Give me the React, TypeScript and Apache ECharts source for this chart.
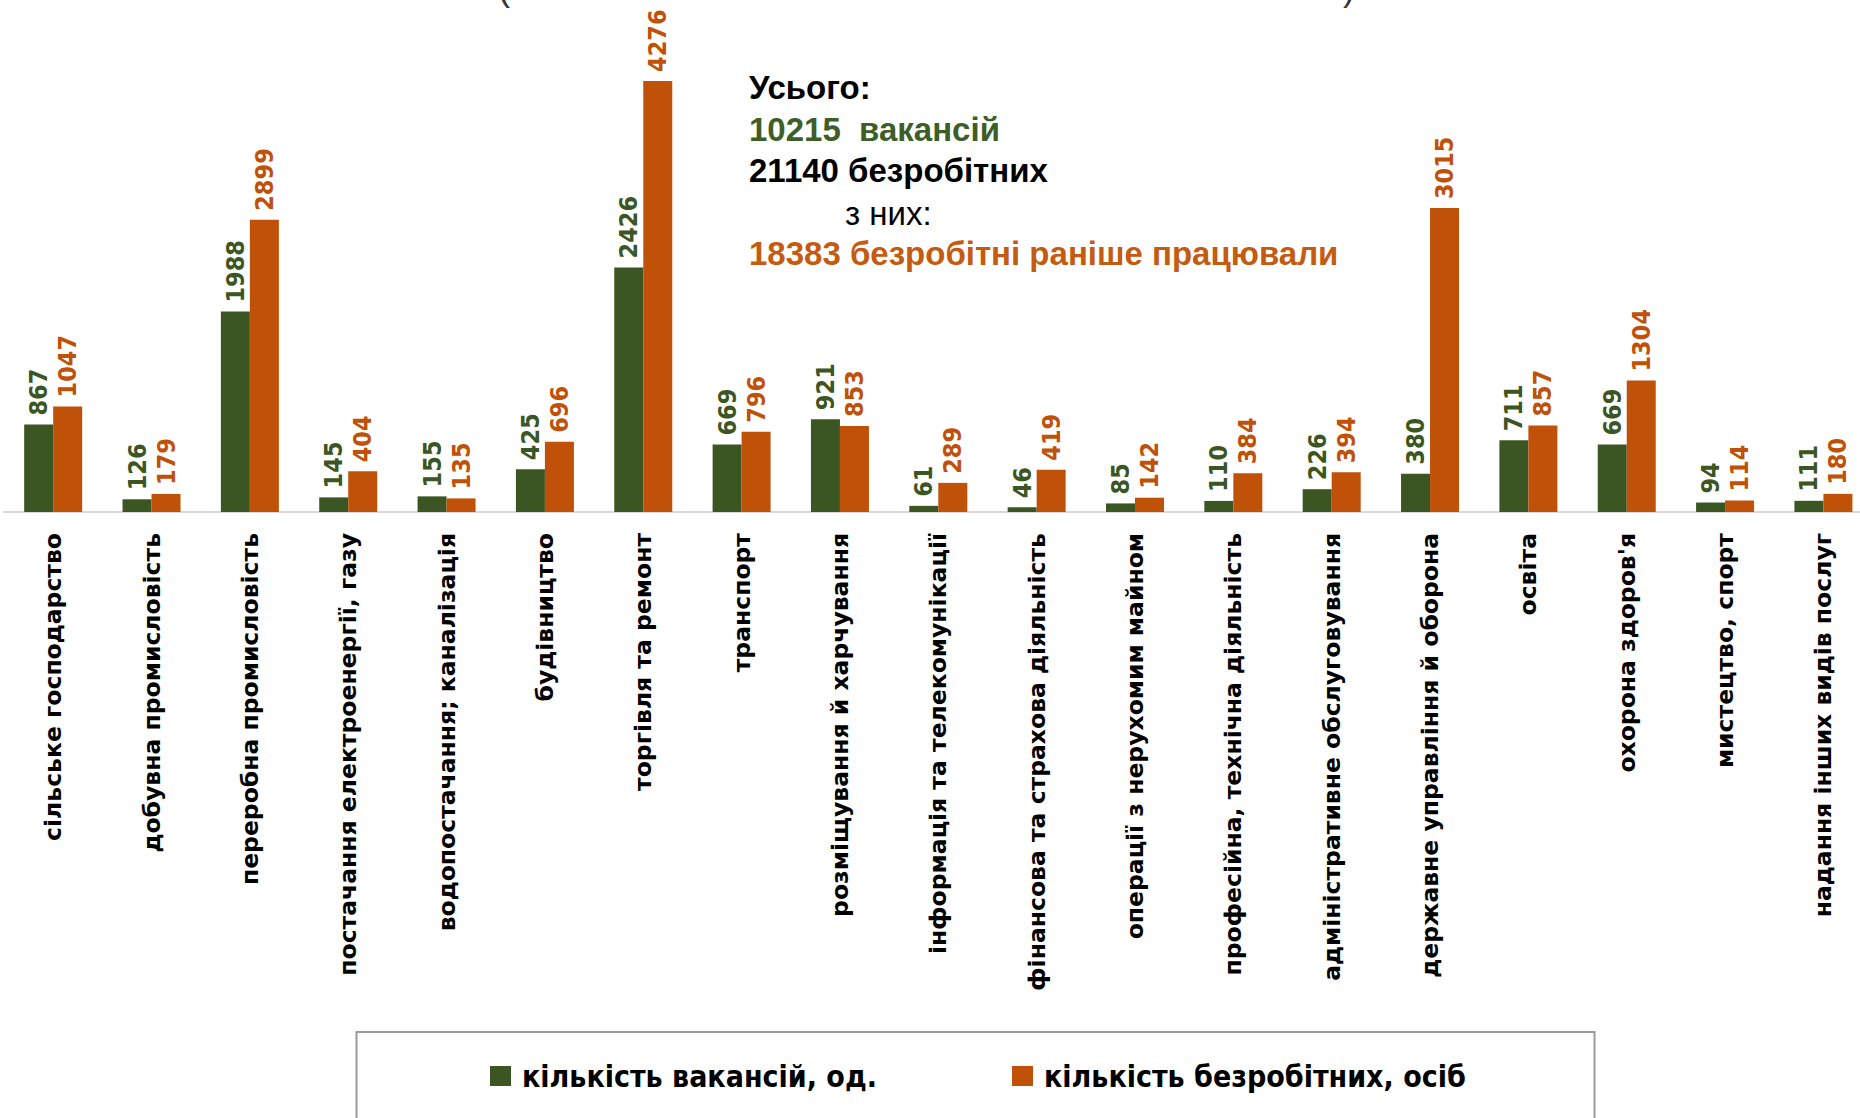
import React, { useEffect, useRef } from "react";
import * as echarts from "echarts";

const categories = [
  "сільське господарство",
  "добувна промисловість",
  "переробна промисловість",
  "постачання електроенергії, газу",
  "водопостачання; каналізація",
  "будівництво",
  "торгівля та ремонт",
  "транспорт",
  "розміщування й харчування",
  "інформація та телекомунікації",
  "фінансова та страхова діяльність",
  "операції з нерухомим майном",
  "професійна, технічна діяльність",
  "адміністративне обслуговування",
  "державне управління й оборона",
  "освіта",
  "охорона здоров'я",
  "мистецтво, спорт",
  "надання інших видів послуг",
];

const vacancies = [867, 126, 1988, 145, 155, 425, 2426, 669, 921, 61, 46, 85, 110, 226, 380, 711, 669, 94, 111];
const unemployed = [1047, 179, 2899, 404, 135, 696, 4276, 796, 853, 289, 419, 142, 384, 394, 3015, 857, 1304, 114, 180];

const seriesNames = ["кількість вакансій, од.", "кількість безробітних, осіб"];

const summaryLines = [
  { text: "Усього:", color: "#000000", bold: true, x: 749 },
  { text: "10215  вакансій", color: "#3D5E26", bold: true, x: 749 },
  { text: "21140 безробітних", color: "#000000", bold: true, x: 749 },
  { text: "з них:", color: "#000000", bold: false, x: 845 },
  { text: "18383 безробітні раніше працювали", color: "#C55A11", bold: true, x: 749 },
];
const summaryY = [87, 129, 170, 213, 253];

const GREEN = "#3B5623";
const ORANGE = "#BF5109";

export default function App() {
  const ref = useRef<HTMLDivElement>(null);

  useEffect(() => {
    if (!ref.current) return;
    const chart = echarts.init(ref.current, null, { renderer: "svg" });

    const labelBase = {
      show: true,
      position: "top",
      rotate: 90,
      align: "left",
      verticalAlign: "middle",
      distance: 9,
      fontSize: 25,
      fontWeight: "bold",
      fontFamily: "'DejaVu Sans Condensed', 'DejaVu Sans', sans-serif",
    };

    const legendText = {
      fontSize: 30,
      fontWeight: "bold",
      color: "#000",
      fontFamily: "'Liberation Sans Narrow', 'DejaVu Sans Condensed', 'Liberation Sans', sans-serif",
      padding: [0, 0, 0, 6],
    };

    const graphics: any[] = [
      {
        type: "rect",
        shape: { x: 356.5, y: 1032, width: 1238, height: 200 },
        style: { fill: "none", stroke: "#9A9A9A", lineWidth: 2 },
        silent: true,
      },
      {
        type: "text",
        x: 498,
        y: 5,
        style: { text: "(", fontSize: 36, fill: "#333", textVerticalAlign: "bottom", fontFamily: "Liberation Sans" },
      },
      {
        type: "text",
        x: 1343,
        y: 5,
        style: { text: ")", fontSize: 36, fill: "#333", textVerticalAlign: "bottom", fontFamily: "Liberation Sans" },
      },
    ];
    summaryLines.forEach((l, i) => {
      graphics.push({
        type: "text",
        x: l.x,
        y: summaryY[i],
        style: {
          text: l.text,
          fill: l.color,
          fontSize: 33,
          fontWeight: l.bold ? "bold" : "normal",
          fontFamily: "'Liberation Sans', Arial, sans-serif",
          textVerticalAlign: "middle",
          textAlign: "left",
        },
      });
    });

    chart.setOption({
      animation: false,
      backgroundColor: "#ffffff",
      grid: {
        left: 4,
        top: 58.4,
        width: 1868.6,
        height: 453.6,
        containLabel: false,
        outerBoundsMode: "none",
      },
      legend: [
        {
          data: [seriesNames[0]],
          left: 490,
          top: 1061,
          padding: 0,
          itemWidth: 21,
          itemHeight: 20,
          icon: "rect",
          textStyle: legendText,
          selectedMode: false,
        },
        {
          data: [seriesNames[1]],
          left: 1012,
          top: 1061,
          padding: 0,
          itemWidth: 21,
          itemHeight: 20,
          icon: "rect",
          textStyle: legendText,
          selectedMode: false,
        },
      ],
      xAxis: {
        type: "category",
        data: categories,
        axisLine: { show: true, lineStyle: { color: "#D9D9D9", width: 2 } },
        axisTick: { show: false },
        axisLabel: {
          rotate: 90,
          interval: 0,
          margin: 21,
          fontSize: 23.5,
          fontWeight: "bold",
          color: "#000",
          fontFamily: "DejaVu Sans",
        },
      },
      yAxis: {
        type: "value",
        min: 0,
        max: 4500,
        show: false,
        splitLine: { show: false },
      },
      series: [
        {
          name: seriesNames[0],
          type: "bar",
          data: vacancies,
          barWidth: 29,
          barGap: "0%",
          itemStyle: { color: GREEN },
          label: { ...labelBase, color: GREEN },
        },
        {
          name: seriesNames[1],
          type: "bar",
          data: unemployed,
          barWidth: 29,
          barGap: "0%",
          itemStyle: { color: ORANGE },
          label: { ...labelBase, color: ORANGE },
        },
      ],
      graphic: graphics,
    });

    return () => chart.dispose();
  }, []);

  return (
    <div
      ref={ref}
      style={{ position: "absolute", left: 0, top: 0, width: 1860, height: 1118 }}
    />
  );
}
